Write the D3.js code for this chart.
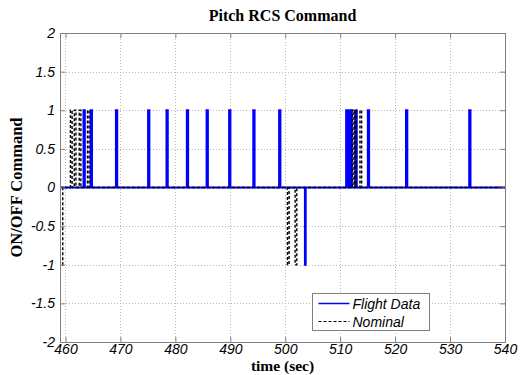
<!DOCTYPE html>
<html>
<head>
<meta charset="utf-8">
<script src="https://cdn.jsdelivr.net/npm/d3@7"></script>
<style>
  html, body { margin: 0; padding: 0; background: #fff; }
  svg { display: block; }
</style>
</head>
<body>
<svg id="chart" width="520" height="375"></svg>
<script>
// Flight data thruster pulses: start / end times (s) and command level
const flightStart = [463.3, 464.6, 469.2, 475.05, 478.4, 482.1, 485.7, 489.8, 494.2, 498.9, 503.6, 511.1, 511.5, 511.9, 512.8, 515.05, 522.0, 533.5];
const flightEnd   = [463.5, 464.8, 469.4, 475.25, 478.6, 482.3, 485.9, 490.0, 494.4, 499.1, 503.7, 511.3, 511.7, 512.1, 513.0, 515.25, 522.2, 533.7];
const flightCmd   = [1, 1, 1, 1, 1, 1, 1, 1, 1, 1, -1, 1, 1, 1, 1, 1, 1, 1];

// Nominal thruster pulses
const nominalStart = [458.8, 460.9, 461.6, 462.5, 464.0, 500.4, 501.8, 512.2, 512.6, 513.6];
const nominalEnd   = [459.5, 461.2, 461.9, 462.8, 464.3, 500.7, 502.1, 512.5, 512.9, 513.9];
const nominalCmd   = [-1, 1, 1, 1, 1, -1, -1, 1, 1, 1];

const timeRange = [459, 540];
const cmdRange = [-2, 2];
const xTicks = [460, 470, 480, 490, 500, 510, 520, 530, 540];
const yTicks = [2, 1.5, 1, 0.5, 0, -0.5, -1, -1.5, -2];

const seriesNames = ["Flight Data", "Nominal"];

// Turn pulse lists into a step signal
function stepSignal(starts, ends, cmds) {
  const pts = [[timeRange[0] - 1, 0]];
  starts.forEach((s, i) => {
    pts.push([s, 0], [s, cmds[i]], [ends[i], cmds[i]], [ends[i], 0]);
  });
  pts.push([timeRange[1] + 1, 0]);
  return pts;
}

const svg = d3.select("#chart");
const m = { left: 60, right: 15, top: 33, bottom: 33 };
const W = 520, H = 375;
const pw = W - m.left - m.right, ph = H - m.top - m.bottom;

const x = d3.scaleLinear().domain(timeRange).range([m.left, m.left + pw]);
const y = d3.scaleLinear().domain(cmdRange).range([m.top + ph, m.top]);

svg.append("defs").append("clipPath").attr("id", "plotclip")
  .append("rect").attr("x", m.left).attr("y", m.top).attr("width", pw).attr("height", ph);

// Grid
const grid = svg.append("g").attr("stroke", "#b8b8b8").attr("stroke-width", 1)
  .attr("stroke-dasharray", "1,2");
xTicks.forEach(t => {
  grid.append("line").attr("x1", Math.round(x(t)) + 0.5).attr("x2", Math.round(x(t)) + 0.5)
    .attr("y1", m.top).attr("y2", m.top + ph);
});
yTicks.forEach(t => {
  grid.append("line").attr("y1", Math.round(y(t)) + 0.5).attr("y2", Math.round(y(t)) + 0.5)
    .attr("x1", m.left).attr("x2", m.left + pw);
});

// Series
const line = d3.line().x(d => x(d[0])).y(d => y(d[1]));
const plot = svg.append("g").attr("clip-path", "url(#plotclip)");
plot.append("path").datum(stepSignal(flightStart, flightEnd, flightCmd))
  .attr("d", line).attr("fill", "none").attr("stroke", "#0000ff").attr("stroke-width", 2.2);
plot.append("path").datum(stepSignal(nominalStart, nominalEnd, nominalCmd))
  .attr("d", line).attr("fill", "none").attr("stroke", "#000").attr("stroke-width", 1.4)
  .attr("stroke-dasharray", "3,2");

// Axes (ticks on all four sides, inward)
const tickFont = "'Liberation Sans', Arial, sans-serif";
const axColor = "#808080";
const axB = svg.append("g").attr("transform", `translate(0,${m.top + ph})`)
  .call(d3.axisBottom(x).tickValues(xTicks).tickSizeInner(-5).tickSizeOuter(0).tickPadding(2));
const axT = svg.append("g").attr("transform", `translate(0,${m.top})`)
  .call(d3.axisTop(x).tickValues(xTicks).tickSizeInner(-5).tickSizeOuter(0).tickFormat(""));
const axL = svg.append("g").attr("transform", `translate(${m.left},0)`)
  .call(d3.axisLeft(y).tickValues(yTicks).tickSizeInner(-5).tickSizeOuter(0).tickPadding(5)
    .tickFormat(d3.format("")));
const axR = svg.append("g").attr("transform", `translate(${m.left + pw},0)`)
  .call(d3.axisRight(y).tickValues(yTicks).tickSizeInner(-5).tickSizeOuter(0).tickFormat(""));
[axB, axT, axL, axR].forEach(a => {
  a.select(".domain").attr("stroke", axColor);
  a.selectAll(".tick line").attr("stroke", axColor);
  a.selectAll("text").attr("fill", "#000").attr("font-family", tickFont)
    .attr("font-size", 14).attr("font-style", "italic");
});
axL.selectAll("text").text(d => d < 0 ? "-" + Math.abs(d) : String(d));

// Titles
const serif = "'Liberation Serif', 'Times New Roman', serif";
svg.append("text").attr("x", m.left + pw / 2).attr("y", 21).attr("text-anchor", "middle")
  .attr("font-family", serif).attr("font-weight", "bold").attr("font-size", 16)
  .text("Pitch RCS Command");
svg.append("text").attr("x", m.left + pw / 2).attr("y", 371).attr("text-anchor", "middle")
  .attr("font-family", serif).attr("font-weight", "bold").attr("font-size", 15.5)
  .text("time (sec)");
svg.append("text").attr("transform", `translate(22,${m.top + ph / 2}) rotate(-90)`)
  .attr("text-anchor", "middle")
  .attr("font-family", serif).attr("font-weight", "bold").attr("font-size", 16.5)
  .text("ON/OFF Command");

// Legend
const lg = svg.append("g").attr("transform", "translate(312.5,293.5)");
lg.append("rect").attr("width", 117).attr("height", 37).attr("fill", "#fff")
  .attr("stroke", "#808080").attr("stroke-width", 1);
const styles = [
  { stroke: "#0000ff", w: 1.5, dash: null },
  { stroke: "#000", w: 1, dash: "3,2" }
];
seriesNames.forEach((name, i) => {
  const ry = 10 + i * 18;
  lg.append("line").attr("x1", 6).attr("x2", 37).attr("y1", ry).attr("y2", ry)
    .attr("stroke", styles[i].stroke).attr("stroke-width", styles[i].w)
    .attr("stroke-dasharray", styles[i].dash);
  lg.append("text").attr("x", 40).attr("y", ry + 5)
    .attr("font-family", tickFont).attr("font-style", "italic").attr("font-size", 14)
    .text(name);
});
</script>
</body>
</html>
